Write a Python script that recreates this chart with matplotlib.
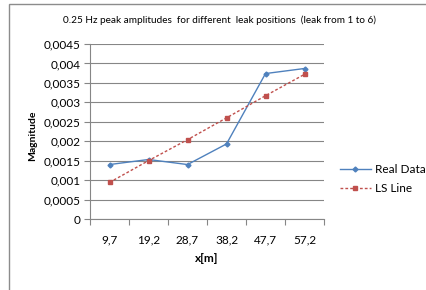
import matplotlib
matplotlib.use("Agg")
import matplotlib.pyplot as plt
from matplotlib.patches import Rectangle

# values
positions = ["9,7", "19,2", "28,7", "38,2", "47,7", "57,2"]
real_data = [0.00140, 0.00153, 0.00140, 0.00193, 0.00374, 0.00387]
ls_line = [0.00094, 0.00150, 0.00204, 0.00260, 0.00317, 0.00372]
y_ticks = [0, 0.0005, 0.001, 0.0015, 0.002, 0.0025, 0.003, 0.0035, 0.004, 0.0045]
y_labels = ["0", "0,0005", "0,001", "0,0015", "0,002", "0,0025", "0,003", "0,0035", "0,004", "0,0045"]

plt.rcParams["font.family"] = ["Lato", "DejaVu Sans"]

fig = plt.figure(figsize=(4.27, 2.90), dpi=100)
fig.patches.append(Rectangle((9 / 427, -0.1), 1.2, 1.1 - 4 / 290, transform=fig.transFigure,
                             fill=False, edgecolor="#8c8c8c", linewidth=1.0))

ax = fig.add_axes([90 / 427, 1 - 219 / 290, 234 / 427, 175 / 290])
x = [i + 0.5 for i in range(len(positions))]

ax.plot(x, real_data, color="#4f81bd", marker="D", markersize=2.5, linewidth=1.0, label="Real Data")
ax.plot(x, ls_line, color="#c0504d", marker="s", markersize=3.5, linewidth=1.0,
        linestyle=(0, (2, 1.5)), label="LS Line")

ax.set_xlim(0, 6)
ax.set_ylim(0, 0.0045)
ax.set_yticks(y_ticks)
ax.set_yticklabels(y_labels)
ax.set_xticks(range(7))
ax.set_xticklabels([])
ax.set_xticks(x, minor=True)
ax.set_xticklabels(positions, minor=True)
ax.tick_params(axis="x", which="minor", length=0, pad=11, labelsize=8.5)
ax.tick_params(axis="x", which="major", length=4, color="#868686", direction="out")
ax.tick_params(axis="y", length=4, color="#868686", labelsize=8.5, pad=3)

ax.grid(axis="y", color="#868686", linewidth=0.8)
ax.set_axisbelow(True)
for side in ["top", "right"]:
    ax.spines[side].set_visible(False)
for side in ["left", "bottom"]:
    ax.spines[side].set_color("#868686")

fig.text(220 / 427, 1 - 20 / 290, "0.25 Hz peak amplitudes  for different  leak positions  (leak from 1 to 6)",
         ha="center", va="center", fontsize=7.2)
fig.text(33 / 427, 1 - 136 / 290, "Magnitude", rotation=90, ha="center", va="center",
         fontsize=7.5, fontweight="bold")
fig.text(207 / 427, 1 - 259 / 290, "x[m]", ha="center", va="center", fontsize=8.5, fontweight="bold")

ax.legend(loc="center left", bbox_to_anchor=(340 / 427, 1 - 179 / 290), bbox_transform=fig.transFigure,
          frameon=False, fontsize=8.5, handlelength=2.6, labelspacing=0.7, handletextpad=0.4,
          borderaxespad=0, borderpad=0)

fig.savefig("out.png", dpi=100)
